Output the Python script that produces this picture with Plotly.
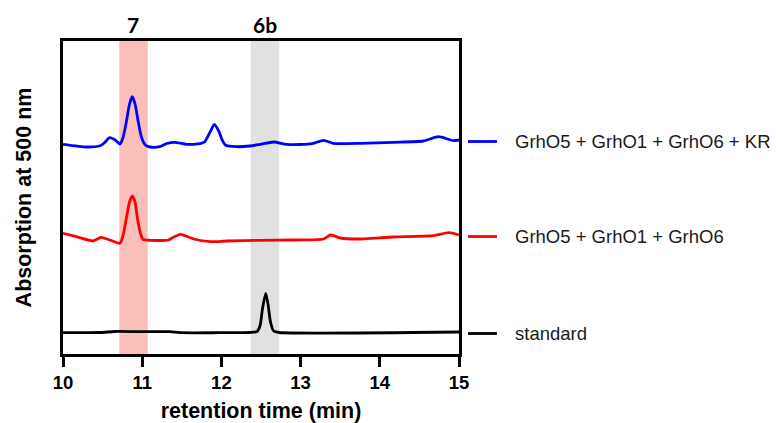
import plotly.graph_objects as go

# Retention time (min) and absorbance (arbitrary units, traces stacked with offsets)
t_kr = [10.00, 10.30, 10.47, 10.52, 10.59, 10.66, 10.72, 10.76, 10.80, 10.84, 10.875, 10.91,
        10.95, 10.99, 11.04, 11.10, 11.22, 11.31, 11.41, 11.56, 11.65, 11.73, 11.79, 11.86,
        11.91, 11.97, 12.01, 12.05, 12.19, 12.36, 12.49, 12.66, 12.82, 12.99, 13.16, 13.29,
        13.41, 13.75, 14.17, 14.55, 14.74, 14.93, 15.00]
a_kr = [209.7, 207.0, 208.3, 211.0, 216.3, 214.0, 210.0, 217.0, 232.3, 250.0, 257.3, 250.0,
        232.3, 217.0, 209.0, 207.0, 207.3, 210.5, 211.7, 209.7, 209.7, 210.3, 212.3, 222.3,
        229.7, 222.3, 214.0, 209.0, 207.3, 208.0, 209.7, 212.0, 209.7, 209.5, 210.7, 213.7,
        210.7, 210.7, 211.7, 213.0, 217.3, 213.3, 214.0]

t_mix = [10.00, 10.17, 10.38, 10.48, 10.59, 10.72, 10.76, 10.80, 10.84, 10.875, 10.91, 10.94,
         10.98, 11.01, 11.10, 11.33, 11.40, 11.48, 11.55, 11.65, 11.86, 12.07, 12.49, 12.91,
         13.29, 13.38, 13.50, 13.71, 14.17, 14.68, 14.87, 15.00]
a_mix = [120.7, 117.3, 113.0, 116.7, 114.0, 110.7, 119.0, 135.7, 152.0, 158.0, 152.0, 135.7,
         120.0, 114.7, 113.7, 114.0, 117.0, 119.7, 118.0, 115.0, 112.3, 113.0, 113.7, 114.0,
         115.0, 119.0, 116.0, 115.0, 117.0, 118.3, 121.3, 119.0]

t_std = [10.00, 10.47, 10.66, 10.97, 11.35, 11.48, 11.98, 12.36, 12.45, 12.49, 12.52, 12.56,
         12.59, 12.62, 12.66, 12.73, 15.00]
a_std = [21.3, 21.5, 22.5, 22.3, 22.3, 21.3, 21.3, 21.5, 22.5, 29.0, 46.0, 60.7,
         49.0, 32.0, 23.0, 21.5, 22.0]

series_names = ["GrhO5 + GrhO1 + GrhO6 + KR", "GrhO5 + GrhO1 + GrhO6", "standard"]
series_colors = ["#0000FF", "#FF0000", "#000000"]
series_t = [t_kr, t_mix, t_std]
series_a = [a_kr, a_mix, a_std]

# Highlighted retention windows and their compound labels
band_labels = ["7", "6b"]
band_ranges = [(10.71, 11.07), (12.37, 12.73)]
band_colors = ["#FBBFBA", "#E1E1E1"]

x_ticks = [10, 11, 12, 13, 14, 15]

AXIS_FONT = "Liberation Sans, Arial, sans-serif"

fig = go.Figure()

for name, color, t, a in zip(series_names, series_colors, series_t, series_a):
    fig.add_trace(go.Scatter(
        x=t, y=a, mode="lines", name=name,
        line=dict(color=color, width=2.8, shape="spline", smoothing=0.6),
        showlegend=False,
    ))

shapes = []
annotations = []
for label, (x0, x1), color in zip(band_labels, band_ranges, band_colors):
    shapes.append(dict(type="rect", xref="x", yref="paper", x0=x0, x1=x1, y0=0, y1=1,
                       fillcolor=color, line=dict(width=0), layer="below"))
    annotations.append(dict(text=label, xref="x", yref="paper", x=(x0 + x1) / 2, y=1.053,
                            showarrow=False, xanchor="center", yanchor="middle",
                            font=dict(family="Lato, Open Sans, sans-serif", size=21,
                                      color="black", weight="bold")))

# Legend drawn beside the end of each trace
for name, color, a in zip(series_names, series_colors, series_a):
    y_end = a[-1]
    shapes.append(dict(type="line", xref="paper", yref="y", x0=1.0227, x1=1.096,
                       y0=y_end - 1.5, y1=y_end - 1.5, line=dict(color=color, width=2.8)))
    annotations.append(dict(text=name, xref="paper", yref="y", x=1.136, y=y_end - 1.5,
                            showarrow=False, xanchor="left", yanchor="middle",
                            font=dict(family=AXIS_FONT, size=18.5, color="#1a1a1a")))

fig.update_layout(
    width=776, height=423,
    margin=dict(l=63, r=317, t=41, b=69, autoexpand=False),
    paper_bgcolor="white", plot_bgcolor="white",
    shapes=shapes, annotations=annotations,
    xaxis=dict(
        range=[10, 15], tickvals=x_ticks, ticktext=[str(v) for v in x_ticks],
        ticks="outside", ticklen=10, tickwidth=2.5, tickcolor="black",
        showline=True, linewidth=2.5, linecolor="black", mirror=True,
        showgrid=False, zeroline=False, automargin=False,
        tickfont=dict(family=AXIS_FONT, size=18.5, color="black", weight="bold"),
        title=dict(text="retention time (min)", standoff=16,
                   font=dict(family=AXIS_FONT, size=21.5, color="black", weight="bold")),
    ),
    yaxis=dict(
        range=[0, 313], showticklabels=False, ticks="",
        showline=True, linewidth=2.5, linecolor="black", mirror=True,
        showgrid=False, zeroline=False, automargin=False,
        title=dict(text="Absorption at 500 nm", standoff=23,
                   font=dict(family=AXIS_FONT, size=21.5, color="black", weight="bold")),
    ),
)

fig.write_html("out.html")
